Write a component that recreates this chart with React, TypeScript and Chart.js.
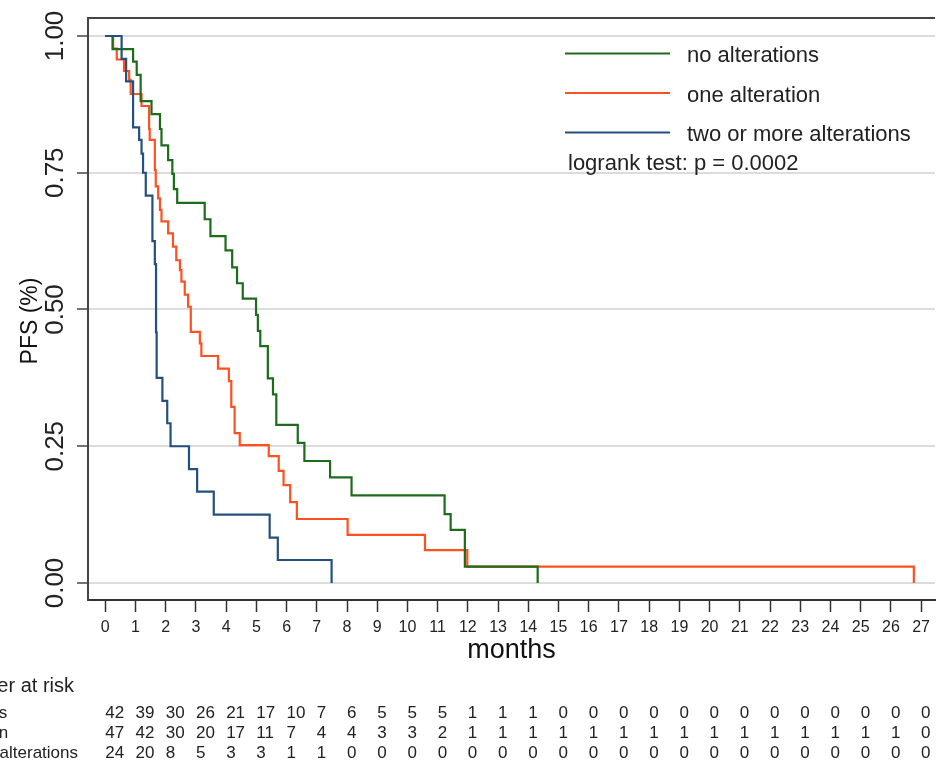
import React, { useEffect, useRef } from "react";
import { Chart, registerables } from "chart.js";

Chart.register(...registerables);

const FONT = "'Liberation Sans', Arial, Helvetica, sans-serif";

const groupLabels = ["no alterations", "one alteration", "two or more alterations"];
const groupColors = ["#1d6b1d", "#ff5020", "#25507e"];

// Kaplan-Meier step points (months, PFS)
const noAltTimes = [0, 0.24, 0.92, 1.04, 1.17, 1.53, 1.81, 1.86, 2.08, 2.22, 2.27, 2.38, 3.29, 3.48, 3.98, 4.2, 4.36, 4.55, 4.99, 5.05, 5.13, 5.38, 5.55, 5.66, 6.37, 6.59, 7.44, 8.15, 11.23, 11.43, 11.9, 14.31];
const noAltSurv = [1, 0.976, 0.953, 0.929, 0.881, 0.857, 0.83, 0.8, 0.773, 0.748, 0.72, 0.695, 0.665, 0.634, 0.608, 0.577, 0.548, 0.52, 0.49, 0.461, 0.433, 0.374, 0.345, 0.289, 0.256, 0.223, 0.193, 0.16, 0.126, 0.097, 0.03, 0];

const oneAltTimes = [0, 0.26, 0.38, 0.62, 0.79, 0.84, 1.2, 1.45, 1.47, 1.64, 1.67, 1.75, 1.81, 1.86, 2.08, 2.24, 2.35, 2.47, 2.52, 2.63, 2.74, 2.83, 3.13, 3.18, 3.73, 4.09, 4.17, 4.28, 4.45, 5.41, 5.74, 5.9, 6.12, 6.34, 8.02, 10.58, 11.98, 26.76];
const oneAltSurv = [1, 0.977, 0.957, 0.936, 0.92, 0.894, 0.872, 0.83, 0.81, 0.755, 0.725, 0.703, 0.682, 0.661, 0.639, 0.615, 0.59, 0.572, 0.551, 0.527, 0.505, 0.459, 0.438, 0.415, 0.392, 0.369, 0.322, 0.274, 0.252, 0.232, 0.205, 0.179, 0.148, 0.117, 0.088, 0.06, 0.03, 0];

const twoAltTimes = [0, 0.54, 0.69, 0.92, 1.12, 1.2, 1.25, 1.34, 1.56, 1.64, 1.68, 1.7, 1.89, 2.05, 2.16, 2.77, 3.04, 3.59, 5.44, 5.71, 7.49];
const twoAltSurv = [1, 0.958, 0.917, 0.833, 0.81, 0.785, 0.75, 0.708, 0.625, 0.583, 0.458, 0.375, 0.333, 0.292, 0.25, 0.208, 0.167, 0.125, 0.083, 0.042, 0];

// Axis ticks
const xTickValues = [0, 1, 2, 3, 4, 5, 6, 7, 8, 9, 10, 11, 12, 13, 14, 15, 16, 17, 18, 19, 20, 21, 22, 23, 24, 25, 26, 27];
const yTickValues = [0, 0.25, 0.5, 0.75, 1];
const yTitle = "PFS (%)";

// Number at risk
const riskTitle = "Number at risk";
const riskMonths = [0, 1, 2, 3, 4, 5, 6, 7, 8, 9, 10, 11, 12, 13, 14, 15, 16, 17, 18, 19, 20, 21, 22, 23, 24, 25, 26, 27];
const noAltRisk = [42, 39, 30, 26, 21, 17, 10, 7, 6, 5, 5, 5, 1, 1, 1, 0, 0, 0, 0, 0, 0, 0, 0, 0, 0, 0, 0, 0];
const oneAltRisk = [47, 42, 30, 20, 17, 11, 7, 4, 4, 3, 3, 2, 1, 1, 1, 1, 1, 1, 1, 1, 1, 1, 1, 1, 1, 1, 1, 0];
const twoAltRisk = [24, 20, 8, 5, 3, 3, 1, 1, 0, 0, 0, 0, 0, 0, 0, 0, 0, 0, 0, 0, 0, 0, 0, 0, 0, 0, 0, 0];

const logrankText = "logrank test: p = 0.0002";

const toPoints = (t: number[], s: number[]) => t.map((x, i) => ({ x, y: s[i] }));

const overlayPlugin = {
  id: "overlay",
  afterDraw(chart: any) {
    const { ctx, chartArea } = chart;
    const xs = chart.scales.x;
    ctx.save();
    // top frame line
    ctx.strokeStyle = "#444";
    ctx.lineWidth = 2;
    ctx.beginPath();
    ctx.moveTo(chartArea.left, chartArea.top);
    ctx.lineTo(chartArea.right, chartArea.top);
    ctx.stroke();

    // y-axis title
    ctx.save();
    ctx.translate(31, 321);
    ctx.rotate(-Math.PI / 2);
    ctx.font = `23px ${FONT}`;
    ctx.fillStyle = "#111";
    ctx.textAlign = "center";
    ctx.textBaseline = "middle";
    ctx.fillText(yTitle, 0, 0);
    ctx.restore();

    // legend
    const legendLineY = [53.5, 93, 132.5];
    const legendTextY = [62, 101.5, 141];
    ctx.font = `22px ${FONT}`;
    ctx.textAlign = "left";
    ctx.textBaseline = "alphabetic";
    groupLabels.forEach((lab, i) => {
      ctx.strokeStyle = groupColors[i];
      ctx.lineWidth = 2;
      ctx.beginPath();
      ctx.moveTo(565, legendLineY[i]);
      ctx.lineTo(670, legendLineY[i]);
      ctx.stroke();
      ctx.fillStyle = "#222";
      ctx.fillText(lab, 687, legendTextY[i]);
    });
    ctx.fillText(logrankText, 568, 170);

    // number at risk table
    ctx.fillStyle = "#222";
    ctx.font = `20px ${FONT}`;
    ctx.textAlign = "right";
    ctx.fillText(riskTitle, 74, 692);
    ctx.font = `17px ${FONT}`;
    ctx.textAlign = "left";
    const rowBase = [718, 738, 758];
    const wLong = ctx.measureText(groupLabels[2]).width;
    const labelX = 78 - wLong;
    const rows = [noAltRisk, oneAltRisk, twoAltRisk];
    rows.forEach((row, r) => {
      ctx.fillText(groupLabels[r], labelX, rowBase[r]);
      row.forEach((n, i) => {
        ctx.fillText(String(n), xs.getPixelForValue(riskMonths[i]), rowBase[r]);
      });
    });
    ctx.restore();
  },
};

export default function App() {
  const ref = useRef<HTMLCanvasElement | null>(null);
  useEffect(() => {
    if (!ref.current) return;
    Chart.defaults.font.family = FONT;
    const chart = new Chart(ref.current, {
      type: "line",
      data: {
        datasets: [
          {
            label: groupLabels[0],
            data: toPoints(noAltTimes, noAltSurv),
            borderColor: groupColors[0],
            borderWidth: 2.2,
            pointRadius: 0,
            stepped: "before",
            fill: false,
            order: 1,
          },
          {
            label: groupLabels[1],
            data: toPoints(oneAltTimes, oneAltSurv),
            borderColor: groupColors[1],
            borderWidth: 2.2,
            pointRadius: 0,
            stepped: "before",
            fill: false,
            order: 2,
          },
          {
            label: groupLabels[2],
            data: toPoints(twoAltTimes, twoAltSurv),
            borderColor: groupColors[2],
            borderWidth: 2.2,
            pointRadius: 0,
            stepped: "before",
            fill: false,
            order: 0,
          },
        ],
      },
      options: {
        responsive: false,
        animation: false,
        layout: { padding: { left: 0, top: 18, right: 0, bottom: 0 } },
        plugins: { legend: { display: false }, tooltip: { enabled: false } },
        scales: {
          x: {
            type: "linear",
            min: -0.572,
            max: 27.46,
            afterBuildTicks: (s: any) => {
              s.ticks = xTickValues.map((v) => ({ value: v }));
            },
            afterFit: (s: any) => {
              s.height = 164;
            },
            ticks: {
              autoSkip: false,
              maxRotation: 0,
              minRotation: 0,
              padding: 6,
              color: "#222",
              font: { size: 16, family: FONT },
              callback: (v: any) => String(v),
            },
            grid: {
              drawOnChartArea: false,
              drawTicks: true,
              tickLength: 12,
              tickColor: "#333",
              tickWidth: 1.5,
            },
            border: { display: true, color: "#333", width: 2 },
            title: {
              display: true,
              text: "months",
              color: "#111",
              font: { size: 27, family: FONT },
              padding: { top: 0, bottom: 97 },
            },
          },
          y: {
            type: "linear",
            min: -0.0311,
            max: 1.0329,
            afterBuildTicks: (s: any) => {
              s.ticks = yTickValues.map((v) => ({ value: v }));
            },
            afterFit: (s: any) => {
              s.width = 88;
            },
            ticks: {
              minRotation: 90,
              maxRotation: 90,
              crossAlign: "center",
              padding: -4,
              color: "#222",
              font: { size: 26, family: FONT },
              callback: (v: any) => Number(v).toFixed(2),
            },
            grid: {
              color: "#dcdcdc",
              lineWidth: 2,
              drawTicks: true,
              tickLength: 11,
              tickColor: "#444",
              tickWidth: 1.5,
            },
            border: { display: true, color: "#444", width: 2 },
            title: { display: false },
          },
        },
      },
      plugins: [overlayPlugin],
    } as any);
    return () => chart.destroy();
  }, []);
  return (
    <div style={{ position: "absolute", left: 0, top: 0, width: 936, height: 764, background: "#fff" }}>
      <canvas ref={ref} width={936} height={764} style={{ width: 936, height: 764 }} />
    </div>
  );
}
